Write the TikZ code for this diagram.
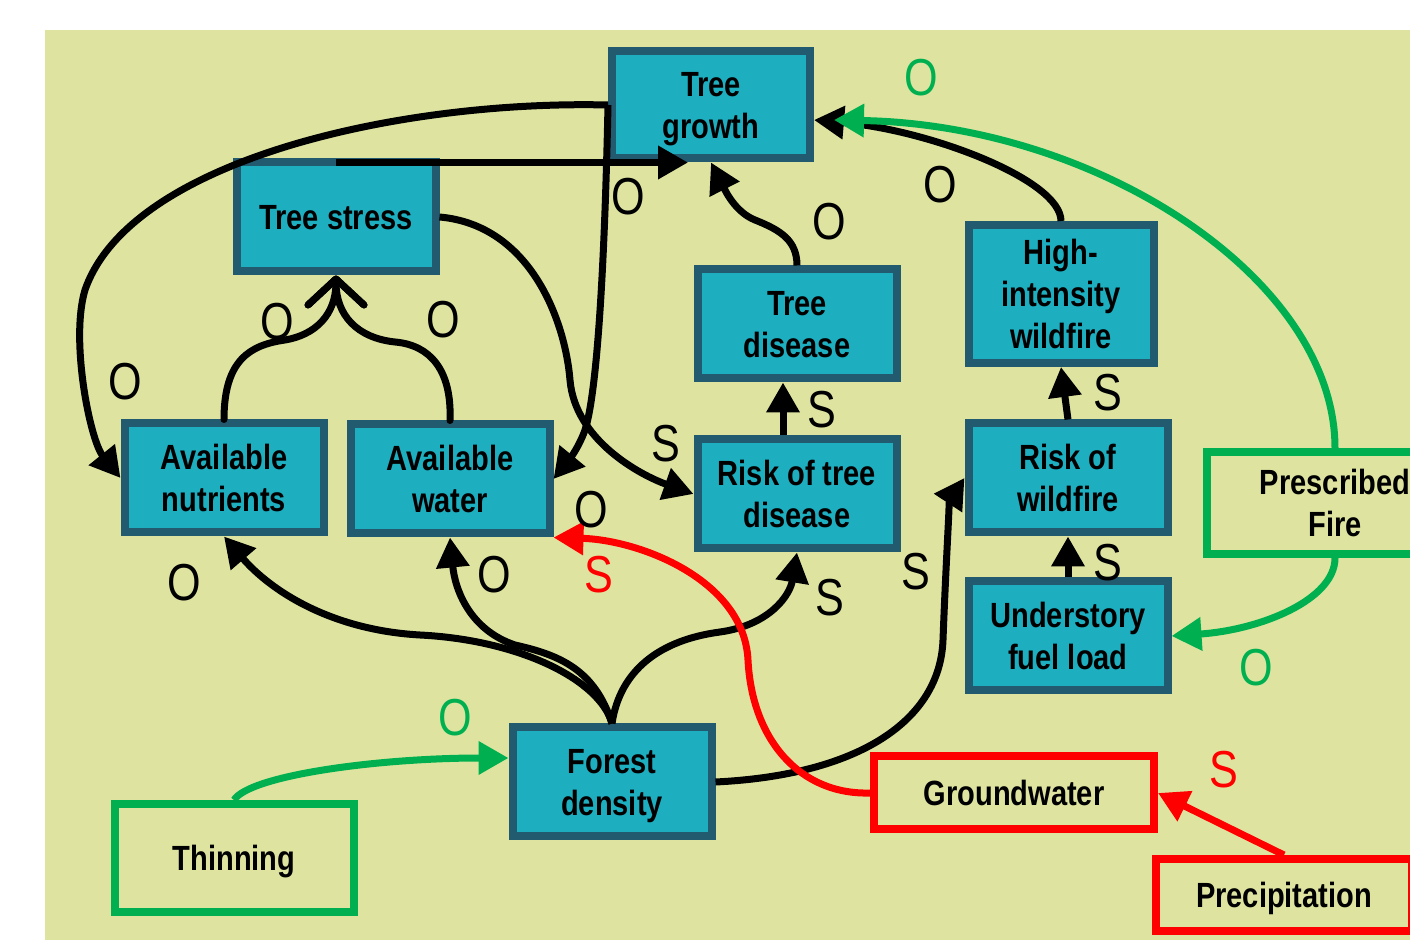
\documentclass[tikz,border=0pt]{standalone}
\usepackage{fontspec}
\setmainfont{Liberation Sans}[FakeStretch=0.83]
\usetikzlibrary{arrows.meta}
\definecolor{bgyellow}{RGB}{222,228,160}
\definecolor{boxteal}{RGB}{29,174,192}
\definecolor{boxedge}{RGB}{34,90,112}
\definecolor{linkgreen}{RGB}{0,176,80}
\definecolor{linkred}{RGB}{255,0,0}

\begin{document}
\begin{tikzpicture}[x=0.5pt, y=-0.5pt,
  var/.style={draw=boxedge, fill=boxteal, line width=4pt, align=center,
    font=\bfseries\fontsize{17.5}{21}\selectfont, inner sep=0pt, text depth=0pt,
    minimum width=99.5pt, minimum height=54.5pt},
  lever/.style={draw=#1, line width=4pt, align=center,
    font=\bfseries\fontsize{17.5}{21}\selectfont, inner sep=0pt, text depth=0pt},
  link/.style={line width=3.5pt, -{Triangle[length=15pt,width=16pt]}},
  merge/.style={line width=3.5pt, line cap=round, -{Straight Barb[length=13pt,width=28pt,round]}},
  sign/.style={font=\fontsize{26}{26}\selectfont, inner sep=0pt}]
  \useasboundingbox (0,0) rectangle (1410,940);
  \clip (0,0) rectangle (1410,940);
  \fill[bgyellow] (45,30) rectangle (1410,940);

  % Variables
  \node[var, minimum width=99pt, minimum height=53.5pt] (growth) at (711,105) {Tree\\growth};
  \node[var] (stress) at (336,217) {Tree stress};
  \node[var] (nutr) at (224,478) {Available\\nutrients};
  \node[var] (water) at (450,479) {Available\\water};
  \node[var] (tdis) at (797,324) {Tree\\disease};
  \node[var] (rtd) at (797,494) {Risk of tree\\disease};
  \node[var, minimum width=92.5pt, minimum height=69pt] (hiw) at (1061,294) {High-\\intensity\\wildfire};
  \node[var] (rwf) at (1068,478) {Risk of\\wildfire};
  \node[var] (fuel) at (1068,636) {Understory\\fuel load};
  \node[var] (dens) at (612,782) {Forest\\density};

  % Management and drivers
  \node[lever=linkgreen, minimum width=119.5pt, minimum height=54pt] (thin) at (234,858) {Thinning};
  \node[lever=linkred, minimum width=140pt, minimum height=36.5pt] (gw) at (1014,793) {Groundwater};
  \node[lever=linkred, minimum width=128pt, minimum height=36pt] (precip) at (1284,895) {Precipitation};
  \node[lever=linkgreen, minimum width=128pt, minimum height=51pt] (fire) at (1335,503) {Prescribed\\Fire};

  \coordinate (stressfoot) at ([yshift=-2pt]stress.north);
  \path (growth.west |- stressfoot) ++(80,0) coordinate (stresstip);
  \coordinate (hiwtip) at ([yshift=-7.5pt]growth.east);
  \coordinate (firetip) at ([xshift=10pt,yshift=-7.5pt]growth.east);
  \coordinate (thintip) at ([yshift=12pt]dens.west);

  % Black links
  \draw[link] (stressfoot) -- (stresstip);
  \draw[link] (growth.west) .. controls (400,100) and (130,160) .. (85,290)
    .. controls (70,340) and (90,440) .. (nutr.west);
  \draw[link] (growth.west) .. controls (605,250) and (598,390) .. (585,430)
    .. controls (578,450) and (565,465) .. (water.east);
  \draw[merge] (nutr.north) .. controls (224,360) and (250,345) .. (285,340)
    .. controls (315,335) and (336,315) .. (stress.south);
  \draw[merge] (water.north) .. controls (452,370) and (430,345) .. (395,342)
    .. controls (357,338) and (336,315) .. (stress.south);
  \draw[link] (stress.east) .. controls (530,225) and (565,320) .. (570,380)
    .. controls (575,440) and (640,475) .. (rtd.west);
  \draw[link] (tdis.north) .. controls (797,240) and (780,230) .. (755,220)
    .. controls (735,212) and (725,190) .. (growth.south);
  \draw[link] (hiw.north) .. controls (1061,180) and (930,130) .. (hiwtip);
  \draw[link] ([xshift=-7pt]rtd.north) -- ([xshift=-7pt]tdis.south);
  \draw[link] (rwf.north) -- (hiw.south);
  \draw[link] (fuel.north) -- (rwf.south);
  \draw[link] (dens.north) .. controls (600,680) and (520,640) .. (420,635)
    .. controls (330,630) and (270,590) .. (nutr.south);
  \draw[link] (dens.north) .. controls (595,670) and (560,655) .. (515,645)
    .. controls (470,630) and (455,590) .. (water.south);
  \draw[link] (dens.north) .. controls (620,670) and (660,640) .. (720,632)
    .. controls (770,625) and (790,595) .. (rtd.south);
  \draw[link] (dens.east) .. controls (860,775) and (940,720) .. (943,640)
    .. controls (946,560) and (950,500) .. (rwf.west);

  % Coloured links
  \draw[link, linkgreen] (fire.north) .. controls (1335,280) and (1100,125) .. (firetip);
  \draw[link, linkgreen] (fire.south) .. controls (1335,600) and (1260,630) .. (fuel.east);
  \draw[link, linkgreen] (thin.north) .. controls (250,775) and (380,758) .. (thintip);
  \draw[link, linkred] (gw.west) .. controls (800,795) and (752,740) .. (748,660)
    .. controls (744,580) and (640,540) .. (water.south east);
  \draw[link, linkred] (precip.north) -- (gw.east);

  % Signs
  \node[sign] (s-stress-growth) at (628,197) {O};
  \node[sign] (s-dis-growth) at (829,222) {O};
  \node[sign] (s-hiw-growth) at (940,185) {O};
  \node[sign, linkgreen] (s-fire-growth) at (921,78) {O};
  \node[sign] (s-growth-nutr) at (125,382) {O};
  \node[sign] (s-nutr-stress) at (277,322) {O};
  \node[sign] (s-water-stress) at (443,320) {O};
  \node[sign] (s-growth-water) at (591,510) {O};
  \node[sign] (s-dens-nutr) at (184,583) {O};
  \node[sign] (s-dens-water) at (494,575) {O};
  \node[sign, linkred] (s-gw-water) at (599,575) {S};
  \node[sign] (s-stress-rtd) at (666,444) {S};
  \node[sign] (s-rtd-dis) at (822,410) {S};
  \node[sign] (s-dens-rtd) at (830,598) {S};
  \node[sign] (s-dens-rwf) at (916,572) {S};
  \node[sign] (s-rwf-hiw) at (1108,393) {S};
  \node[sign] (s-fuel-rwf) at (1108,563) {S};
  \node[sign, linkgreen] (s-fire-fuel) at (1256,668) {O};
  \node[sign, linkred] (s-precip-gw) at (1224,770) {S};
  \node[sign, linkgreen] (s-thin-dens) at (455,718) {O};
\end{tikzpicture}
\end{document}
